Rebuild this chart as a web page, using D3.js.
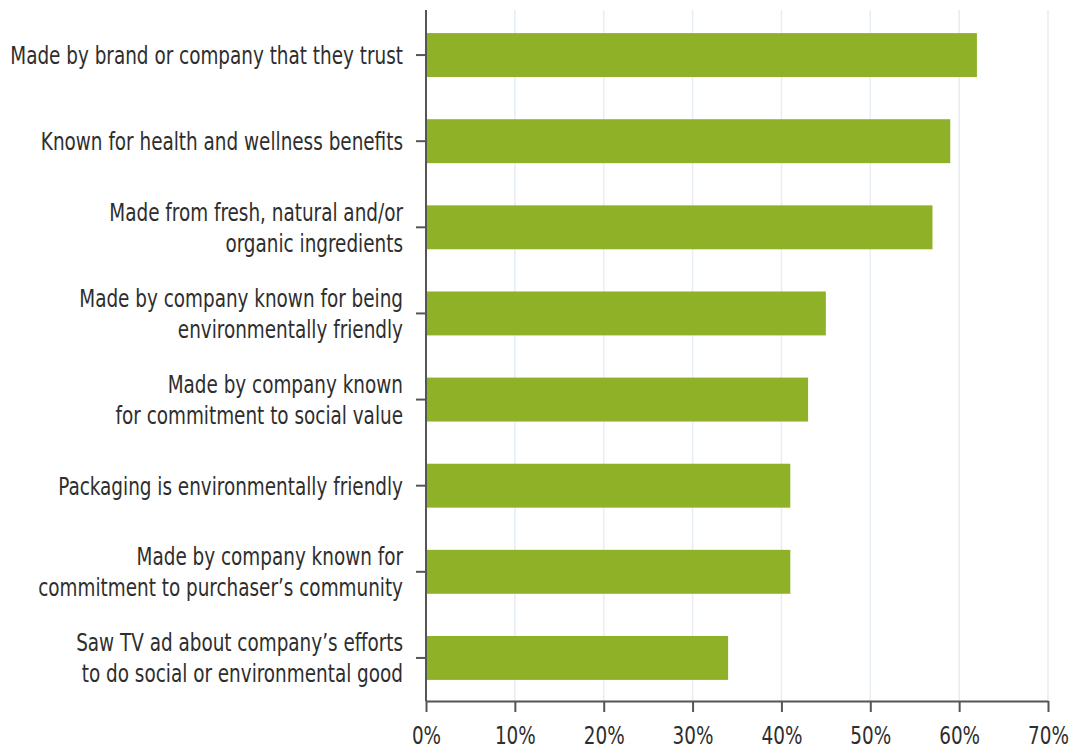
<!DOCTYPE html>
<html>
<head>
<meta charset="utf-8">
<script src="https://cdn.jsdelivr.net/npm/d3@7"></script>
<style>
  body { margin: 0; background: #fff; }
  svg text { font-family: "DejaVu Sans Condensed", "DejaVu Sans", sans-serif; font-stretch: condensed; fill: #2e2e2e; }
</style>
</head>
<body>
<svg id="chart"></svg>
<script>
const categories = [
    "Made by brand or company that they trust",
    "Known for health and wellness benefits",
    "Made from fresh, natural and/or\norganic ingredients",
    "Made by company known for being\nenvironmentally friendly",
    "Made by company known\nfor commitment to social value",
    "Packaging is environmentally friendly",
    "Made by company known for\ncommitment to purchaser\u2019s community",
    "Saw TV ad about company\u2019s efforts\nto do social or environmental good"
]
const values = [62, 59, 57, 45, 43, 41, 41, 34]
const xTicks = [0, 10, 20, 30, 40, 50, 60, 70]

const colors = {
    bar: "#8fb127",
    axis: "#555",
    grid: "#e6edf3"
}

const width = 1071, height = 751
const svg = d3.select("#chart").attr("width", width).attr("height", height)

const x = d3.scaleLinear().domain([0, 70]).range([426, 1048])
const y = d3.scaleBand().domain(categories).range([12, 701]).paddingInner(0.49).paddingOuter(0.245)

// grid lines
svg.append("g").selectAll("line")
    .data(xTicks.slice(1))
    .enter().append("line")
    .attr("x1", d => x(d)).attr("x2", d => x(d))
    .attr("y1", 10).attr("y2", 701)
    .attr("stroke", colors.grid).attr("stroke-width", 1.5)

// bars
svg.append("g").selectAll("rect")
    .data(values)
    .enter().append("rect")
    .attr("x", x(0))
    .attr("y", (d, i) => y(categories[i]))
    .attr("width", d => x(d) - x(0))
    .attr("height", y.bandwidth())
    .attr("fill", colors.bar)

// x axis
const xAxis = svg.append("g")
    .attr("transform", "translate(0,701)")
    .call(d3.axisBottom(x).tickValues(xTicks).tickFormat(d => d + "%").tickSize(11).tickSizeOuter(0))
xAxis.select(".domain").attr("stroke", colors.axis).attr("stroke-width", 2)
xAxis.selectAll(".tick line").attr("stroke", colors.axis).attr("stroke-width", 2)

// y axis
const yAxis = svg.append("g")
    .attr("transform", `translate(${x(0)},0)`)
    .call(d3.axisLeft(y).tickSize(10).tickSizeOuter(0).tickFormat(""))
yAxis.select(".domain").attr("stroke", colors.axis).attr("stroke-width", 2)
    .attr("d", "M0,10V701")
yAxis.selectAll(".tick line").attr("stroke", colors.axis).attr("stroke-width", 2)

// category labels (multi-line), squeezed horizontally to look condensed
const labelG = svg.append("g").selectAll("g")
    .data(categories)
    .enter().append("g")
    .attr("class", "lab")

const labels = labelG.append("text")
    .attr("text-anchor", "end")
    .attr("font-size", 25)

labels.each(function(d) {
    const lines = d.split("\n")
    const t = d3.select(this)
    lines.forEach((line, i) => {
        t.append("tspan")
            .attr("x", 0)
            .attr("y", (i - (lines.length - 1) / 2) * 31)
            .attr("dy", "0.36em")
            .text(line)
    })
})

// widest one-line label should span ~393px like in the original
const firstLen = labels.nodes()[0].getComputedTextLength()
const squeeze = 393 / firstLen
labelG.attr("transform", d => `translate(403,${y(d) + y.bandwidth() / 2}) scale(${squeeze},1)`)

// tick labels
xAxis.selectAll(".tick text").remove()
xAxis.selectAll(".tick").append("text")
    .attr("text-anchor", "middle")
    .attr("font-size", 25)
    .attr("transform", `translate(0,43) scale(${squeeze},1)`)
    .text(d => d + "%")
</script>
</body>
</html>
